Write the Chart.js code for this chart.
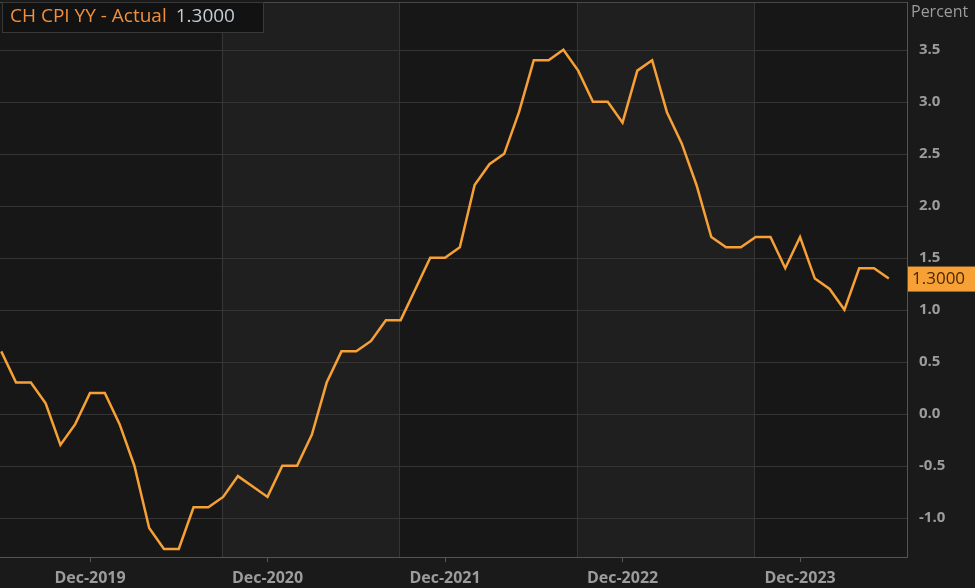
<!DOCTYPE html>
<html>
<head>
<meta charset="utf-8">
<script src="https://cdn.jsdelivr.net/npm/chart.js@4"></script>
<style>
    body { margin: 0; background: #1b1a1b; }
    #wrap { width: 975px; height: 588px; }
</style>
</head>
<body>
<div id="wrap"><canvas id="chart" width="975" height="588"></canvas></div>
<script>
// Monthly CH CPI YoY, Jun-2019 .. Jun-2024
const months = [
    'Jun-2019', 'Jul-2019', 'Aug-2019', 'Sep-2019', 'Oct-2019', 'Nov-2019', 'Dec-2019',
    'Jan-2020', 'Feb-2020', 'Mar-2020', 'Apr-2020', 'May-2020', 'Jun-2020', 'Jul-2020', 'Aug-2020', 'Sep-2020', 'Oct-2020', 'Nov-2020', 'Dec-2020',
    'Jan-2021', 'Feb-2021', 'Mar-2021', 'Apr-2021', 'May-2021', 'Jun-2021', 'Jul-2021', 'Aug-2021', 'Sep-2021', 'Oct-2021', 'Nov-2021', 'Dec-2021',
    'Jan-2022', 'Feb-2022', 'Mar-2022', 'Apr-2022', 'May-2022', 'Jun-2022', 'Jul-2022', 'Aug-2022', 'Sep-2022', 'Oct-2022', 'Nov-2022', 'Dec-2022',
    'Jan-2023', 'Feb-2023', 'Mar-2023', 'Apr-2023', 'May-2023', 'Jun-2023', 'Jul-2023', 'Aug-2023', 'Sep-2023', 'Oct-2023', 'Nov-2023', 'Dec-2023',
    'Jan-2024', 'Feb-2024', 'Mar-2024', 'Apr-2024', 'May-2024', 'Jun-2024'
];
const cpiValues = [
    0.6, 0.3, 0.3, 0.1, -0.3, -0.1, 0.2,
    0.2, -0.1, -0.5, -1.1, -1.3, -1.3, -0.9, -0.9, -0.8, -0.6, -0.7, -0.8,
    -0.5, -0.5, -0.2, 0.3, 0.6, 0.6, 0.7, 0.9, 0.9, 1.2, 1.5, 1.5,
    1.6, 2.2, 2.4, 2.5, 2.9, 3.4, 3.4, 3.5, 3.3, 3.0, 3.0, 2.8,
    3.3, 3.4, 2.9, 2.6, 2.2, 1.7, 1.6, 1.6, 1.7, 1.7, 1.4, 1.7,
    1.3, 1.2, 1.0, 1.4, 1.4, 1.3
];
const xTickLabels = ['Dec-2019', 'Dec-2020', 'Dec-2021', 'Dec-2022', 'Dec-2023'];
const yTickValues = [-1.0, -0.5, 0.0, 0.5, 1.0, 1.5, 2.0, 2.5, 3.0, 3.5];
const bandEdges = ['Sep-2020', 'Sep-2021', 'Sep-2022', 'Sep-2023'];

const seriesName = 'CH CPI YY - Actual';
const lastValue = cpiValues[cpiValues.length - 1];

const ORANGE = '#f7a035';
const GRID = '#363536';
const TEXT = '#9c9c9c';

const idx = label => months.indexOf(label);

// Alternating vertical bands, grid and the overlay texts
const bandsPlugin = {
    id: 'bands',
    beforeDatasetsDraw(chart) {
        const { ctx, chartArea: a, scales: { x } } = chart;
        const edges = [a.left, ...bandEdges.map(m => x.getPixelForValue(idx(m) - 0.1)), a.right];
        ctx.save();
        for (let i = 0; i < edges.length - 1; i++) {
            ctx.fillStyle = i % 2 === 0 ? '#181717' : '#201f20';
            ctx.fillRect(edges[i], a.top, edges[i + 1] - edges[i], a.bottom - a.top);
        }
        const y = chart.scales.y;
        ctx.strokeStyle = GRID;
        ctx.lineWidth = 1;
        yTickValues.forEach(v => {
            const py = Math.round(y.getPixelForValue(v)) + 0.5;
            ctx.beginPath();
            ctx.moveTo(a.left, py);
            ctx.lineTo(a.right, py);
            ctx.stroke();
        });
        edges.slice(1, -1).forEach(px => {
            ctx.beginPath();
            ctx.moveTo(Math.round(px) + 0.5, a.top);
            ctx.lineTo(Math.round(px) + 0.5, a.bottom);
            ctx.stroke();
        });
        ctx.strokeStyle = '#4a494a';
        ctx.beginPath();
        ctx.moveTo(a.left, a.top + 0.5);
        ctx.lineTo(a.right, a.top + 0.5);
        ctx.stroke();
        ctx.restore();
    },
    afterDraw(chart) {
        const { ctx, chartArea: a, scales: { y } } = chart;
        ctx.save();

        // Axis unit label
        ctx.font = '16px "Open Sans"';
        ctx.fillStyle = TEXT;
        ctx.textBaseline = 'middle';
        ctx.fillText('Percent', a.right + 4, 12);

        // Last value marker on the axis
        const py = y.getPixelForValue(lastValue);
        ctx.fillStyle = ORANGE;
        ctx.fillRect(a.right + 1, py - 12, chart.width - a.right - 1, 25);
        ctx.fillStyle = '#4a2805';
        ctx.font = '17px "Open Sans"';
        ctx.fillText(lastValue.toFixed(4), a.right + 5, py + 1);

        // Legend box
        ctx.fillStyle = '#121212';
        ctx.fillRect(2, 2, 261, 30);
        ctx.strokeStyle = '#3a393a';
        ctx.strokeRect(2.5, 2.5, 261, 30);
        ctx.font = '19px "Open Sans"';
        ctx.fillStyle = '#f0903c';
        ctx.fillText(seriesName, 10, 17);
        const w = ctx.measureText(seriesName).width;
        ctx.fillStyle = '#c4ccd4';
        ctx.fillText(lastValue.toFixed(4), 10 + w + 9, 17);
        ctx.restore();
    }
};

new Chart(document.getElementById('chart'), {
    type: 'line',
    data: {
        datasets: [{
            label: seriesName,
            data: cpiValues.map((v, i) => ({ x: i, y: v })),
            borderColor: ORANGE,
            borderWidth: 2.5,
            pointRadius: 0,
            tension: 0,
            fill: false
        }]
    },
    options: {
        responsive: false,
        animation: false,
        layout: { padding: { top: 2, left: 0, right: 0, bottom: 0 } },
        plugins: {
            legend: { display: false },
            tooltip: { enabled: false }
        },
        scales: {
            x: {
                type: 'linear',
                min: -0.085,
                max: 61.23,
                afterBuildTicks(scale) {
                    scale.ticks = xTickLabels.map(l => ({ value: idx(l) }));
                },
                afterFit(scale) {
                    scale.height = 31;
                    scale.paddingLeft = 0;
                    scale.paddingRight = 0;
                },
                grid: {
                    drawOnChartArea: false,
                    drawTicks: true,
                    tickLength: 5,
                    color: '#5a595a'
                },
                border: { color: '#555455' },
                ticks: {
                    color: TEXT,
                    padding: 7,
                    maxRotation: 0,
                    font: { family: 'Open Sans', size: 16, weight: '700' },
                    callback: v => months[v]
                }
            },
            y: {
                position: 'right',
                min: -1.378,
                max: 3.96,
                afterBuildTicks(scale) {
                    scale.ticks = yTickValues.map(v => ({ value: v }));
                },
                afterFit(scale) {
                    scale.width = 68;
                    scale.paddingTop = 0;
                    scale.paddingBottom = 0;
                },
                grid: { display: false },
                border: { color: '#555455' },
                ticks: {
                    color: TEXT,
                    padding: 4,
                    font: { family: 'Open Sans', size: 15, weight: '700' },
                    callback: v => v.toFixed(1)
                }
            }
        }
    },
    plugins: [bandsPlugin]
});
</script>
</body>
</html>
